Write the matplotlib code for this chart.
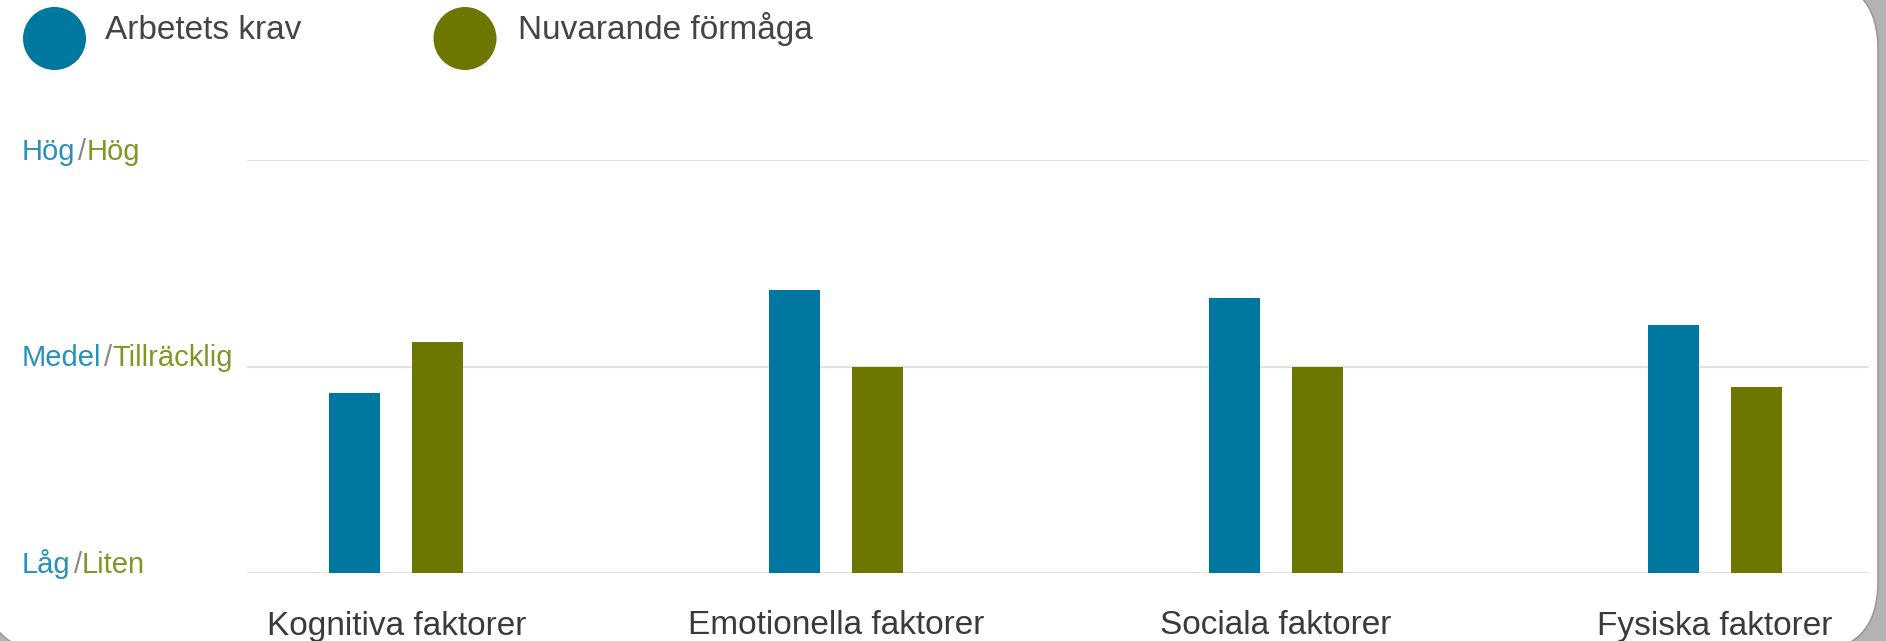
import matplotlib
matplotlib.use("Agg")
import matplotlib.pyplot as plt
import numpy as np
from matplotlib.patches import Circle, FancyBboxPatch

plt.rcParams['font.family'] = ['Liberation Sans', 'DejaVu Sans']

# ---- data ----
categories = ["Kognitiva faktorer", "Emotionella faktorer", "Sociala faktorer", "Fysiska faktorer"]
series_names = ["Arbetets krav", "Nuvarande förmåga"]
demand = [0.87, 1.37, 1.33, 1.20]
capacity = [1.12, 1.00, 1.00, 0.90]
levels = [0, 1, 2]
level_demand = ["Låg", "Medel", "Hög"]
level_capacity = ["Liten", "Tillräcklig", "Hög"]

BLUE = "#00779F"
GREEN = "#6D7700"
BLUE_TXT = "#2990BC"
GREEN_TXT = "#849526"

W, H = 1886, 641
DPI = 100
fig = plt.figure(figsize=(W / DPI, H / DPI), dpi=DPI)
fig.patch.set_facecolor("#b3b3b3")

# background card (pixel coordinates)
bg = fig.add_axes([0, 0, 1, 1], zorder=0)
bg.set_xlim(0, W)
bg.set_ylim(H, 0)
bg.axis("off")
card = FancyBboxPatch((-16, -21), 1878 + 16, 652 + 21,
                      boxstyle="round,pad=0,rounding_size=70",
                      facecolor="white", edgecolor="#9a9a9a", linewidth=1.2)
bg.add_patch(card)

# legend
leg = [(54.5, 105, series_names[0], BLUE), (465, 518, series_names[1], GREEN)]
for cx, tx, name, col in leg:
    bg.add_patch(Circle((cx, 38.5), 31.5, facecolor=col, edgecolor="none"))
    bg.text(tx, 39, name, fontsize=24, color="#444444", va="baseline", ha="left")

# main axes
left, right = 247 / W, 1869 / W
bottom, top = 1 - 573 / H, 1 - 160 / H
ax = fig.add_axes([left, bottom, right - left, top - bottom], zorder=1)
ax.patch.set_alpha(0)

x = np.arange(len(categories))
bw = 0.116
off = 0.0944
ax.bar(x - off, demand, width=bw, color=BLUE, zorder=3)
ax.bar(x + off, capacity, width=bw, color=GREEN, zorder=3)

ax.set_xlim(-0.340, 3.350)
ax.set_ylim(0, 2)
ax.set_yticks(levels)
ax.set_yticklabels([])
ax.tick_params(axis="y", length=0)
ax.yaxis.grid(True, color="#e2e2e2", linewidth=1.5, zorder=0)
ax.set_axisbelow(True)
for s in ax.spines.values():
    s.set_visible(False)
ax.set_xticks(x)
ax.set_xticklabels(categories, fontsize=24, color="#3a3a3a")
ax.tick_params(axis="x", length=0, pad=27)

# y level labels, two-coloured
renderer = fig.canvas.get_renderer()
for lv, d, c in zip(levels, level_demand, level_capacity):
    y_fig = ax.transData.transform((0, lv))[1] / H
    xp = 22
    pieces = [(d, BLUE_TXT, 3), ("/", "#8a8a8a", 0), (c, GREEN_TXT, 0)]
    for txt, col, gap in pieces:
        t = fig.text(xp / W, y_fig, txt, fontsize=21, color=col,
                     va="baseline", ha="left", zorder=5)
        bb = t.get_window_extent(renderer)
        xp = bb.x1 + gap

fig.savefig("out.png", dpi=DPI, facecolor=fig.get_facecolor())
